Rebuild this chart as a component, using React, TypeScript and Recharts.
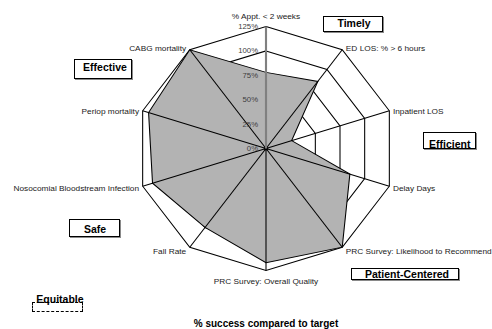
import { PolarAngleAxis, PolarGrid, PolarRadiusAxis, Radar, RadarChart } from 'recharts';

const FONT = '"Liberation Sans", Arial, sans-serif';

// measures, clockwise from the top
const measures = [
  '% Appt. < 2 weeks',
  'ED LOS: % > 6 hours',
  'Inpatient LOS',
  'Delay Days',
  'PRC Survey: Likelihood to Recommend',
  'PRC Survey: Overall Quality',
  'Fall Rate',
  'Nosocomial Bloodstream Infection',
  'Periop mortality',
  'CABG mortality'
];

// % success compared to target
const successPct = [78, 85, 26, 85, 125, 117, 100, 115, 119, 125];

const radiusTicks = [0, 25, 50, 75, 100, 125];

const dimensions = ['Timely', 'Efficient', 'Patient-Centered', 'Safe', 'Effective', 'Equitable'];

const chartTitle = '% success compared to target';

const rows = measures.map((measure, i) => ({ measure, success: successPct[i] }));

// chart geometry (the plot is drawn a little wider than tall)
const CX = 266;
const CY = 148.5;
const R = 122;
const STRETCH = 1.063;

// boxes around the dimension names: box rect + text centre
const boxLayout: Record<string, { x: number; y: number; w: number; h: number; tx: number; ty: number; dashed?: boolean }> = {
  Timely: { x: 322.7, y: 15.7, w: 60.6, h: 16.6, tx: 354, ty: 22.9 },
  Efficient: { x: 423.3, y: 131.7, w: 52.4, h: 17.3, tx: 449.7, ty: 144 },
  'Patient-Centered': { x: 350.7, y: 267.7, w: 108.6, h: 12.3, tx: 407, ty: 273.8 },
  Safe: { x: 69.3, y: 219.3, w: 50.7, h: 18, tx: 95, ty: 229.3 },
  Effective: { x: 74, y: 59.3, w: 57.7, h: 20, tx: 105, ty: 66.9 },
  Equitable: { x: 32.3, y: 302, w: 50.4, h: 9.7, tx: 60, ty: 299.3, dashed: true }
};

// filled polygon with the category spokes laid over it
function RadarWithSpokes(props: any) {
  const { points = [] } = props;
  if (!points.length) return null;
  const d = points.map((p: any, i: number) => `${i ? 'L' : 'M'}${p.x},${p.y}`).join('') + 'Z';
  const { cx, cy } = points[0];
  return (
    <g>
      <path d={d} fill="#b3b3b3" stroke="#000" strokeWidth={1} />
      {points.map((p: any, i: number) => {
        const rad = (p.angle * Math.PI) / 180;
        return (
          <line
            key={i}
            x1={p.cx}
            y1={p.cy}
            x2={p.cx + R * Math.cos(rad)}
            y2={p.cy - R * Math.sin(rad)}
            stroke="#000"
            strokeWidth={1}
          />
        );
      })}
      <circle cx={cx} cy={cy} r={2} fill="#000" />
    </g>
  );
}

function AngleTick(props: any) {
  const { payload } = props;
  const rad = (payload.coordinate * Math.PI) / 180;
  const cos = Math.cos(rad);
  const sin = Math.sin(rad);
  const vx = CX + R * cos;
  const vy = CY - R * sin;
  let anchor: 'start' | 'middle' | 'end' = 'middle';
  let tx = vx;
  let ty: number;
  if (Math.abs(cos) < 0.01) {
    ty = vy + (sin > 0 ? -10.5 : 10.5);
  } else {
    anchor = cos > 0 ? 'start' : 'end';
    tx = vx + (cos > 0 ? 3.4 : -3.4);
    ty = vy + 1.1 - 3.2 * sin;
  }
  return (
    <text x={tx} y={ty} dy="0.35em" textAnchor={anchor} fontSize={7.8} fill="#1a1a1a" fontFamily={FONT}>
      {payload.value}
    </text>
  );
}

function RadiusTick(props: any) {
  const { x, y, payload } = props;
  return (
    <text x={x - 7.5} y={y} dy="0.35em" textAnchor="end" fontSize={7.3} fill="#404040" fontFamily={FONT}>
      {`${payload.value}%`}
    </text>
  );
}

function DimensionBox({ name }: { name: string }) {
  const b = boxLayout[name];
  return (
    <>
      <div
        style={{
          position: 'absolute',
          left: b.x,
          top: b.y,
          width: b.w,
          height: b.h,
          boxSizing: 'border-box',
          border: b.dashed ? '1px dashed #000' : '1px solid #000',
          boxShadow: b.dashed ? 'none' : '1px 1px 0 #8a8a8a',
          background: b.dashed ? 'transparent' : '#fff'
        }}
      />
      <span
        style={{
          position: 'absolute',
          left: b.tx,
          top: b.ty,
          transform: 'translate(-50%, -50%)',
          fontSize: 10.5,
          fontWeight: 'bold',
          lineHeight: 1,
          whiteSpace: 'nowrap',
          color: '#000'
        }}
      >
        {name}
      </span>
    </>
  );
}

export default function App() {
  return (
    <div
      style={{
        position: 'absolute',
        left: 0,
        top: 0,
        width: 492,
        height: 329,
        overflow: 'hidden',
        background: '#fff',
        fontFamily: FONT
      }}
    >
      <div style={{ position: 'absolute', left: 0, top: 0, transform: `scaleX(${STRETCH})`, transformOrigin: `${CX}px 0` }}>
        <RadarChart
          width={492}
          height={329}
          data={rows}
          cx={CX}
          cy={CY}
          outerRadius={R}
          margin={{ top: 0, right: 0, bottom: 0, left: 0 }}
        >
          <PolarGrid gridType="polygon" radialLines={false} stroke="#000" strokeOpacity={1} />
          <Radar
            dataKey="success"
            stroke="#000"
            fill="#b3b3b3"
            fillOpacity={1}
            dot={false}
            isAnimationActive={false}
            shape={(p: any) => <RadarWithSpokes {...p} />}
          />
          <PolarAngleAxis dataKey="measure" axisLine={false} tickLine={false} tick={(p: any) => <AngleTick {...p} />} />
          <PolarRadiusAxis
            angle={90}
            type="number"
            domain={[0, 125]}
            ticks={radiusTicks}
            tickCount={radiusTicks.length}
            axisLine={{ stroke: '#808080', strokeWidth: 2 }}
            tickLine={false}
            tick={(p: any) => <RadiusTick {...p} />}
          />
        </RadarChart>
      </div>

      {dimensions.map((d) => (
        <DimensionBox key={d} name={d} />
      ))}

      <div
        style={{
          position: 'absolute',
          left: CX - 100,
          width: 200,
          top: 317.5,
          textAlign: 'center',
          fontSize: 10,
          fontWeight: 'bold',
          lineHeight: '12px',
          whiteSpace: 'nowrap'
        }}
      >
        {chartTitle}
      </div>
    </div>
  );
}
